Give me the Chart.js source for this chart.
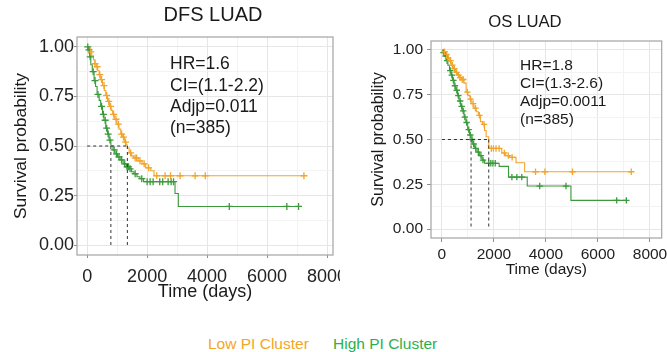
<!DOCTYPE html>
<html>
<head>
<meta charset="utf-8">
<script src="https://cdn.jsdelivr.net/npm/chart.js@4.4.1/dist/chart.umd.min.js"></script>
<style>
html,body{margin:0;padding:0;background:#fff;width:667px;height:352px;overflow:hidden;font-family:"Liberation Sans",Arial,sans-serif}
canvas{position:absolute;top:0}
#c1{left:0}
#c2{left:340px}
.leg{position:absolute;top:334.5px;font-size:15.5px;line-height:18px;white-space:nowrap;font-family:"Liberation Sans",Arial,sans-serif}
</style>
</head>
<body>
<canvas id="c1" width="340" height="310" style="width:340px;height:310px"></canvas>
<canvas id="c2" width="327" height="290" style="width:327px;height:290px"></canvas>
<div class="leg" style="left:208px;color:#F5A623">Low PI Cluster</div>
<div class="leg" style="left:333px;color:#2DB04B">High PI Cluster</div>
<script>
// ---------- DATA ----------
const panelTitles = ['DFS LUAD', 'OS LUAD'];
const seriesNames = ['Low PI Cluster', 'High PI Cluster'];
const xTickValues = [0, 2000, 4000, 6000, 8000];
const yTickValues = [0, 0.25, 0.5, 0.75, 1];
const xAxisTitle = 'Time (days)';
const yAxisTitle = 'Survival probability';

// DFS LUAD - Low PI Cluster (event times in days, survival after event)
const dfsLowTimes = [0, 40, 90, 150, 210, 260, 300, 350, 400, 450, 510, 570, 620, 680, 740, 800, 850, 920, 990, 1060, 1120, 1180, 1240, 1300, 1340, 1400, 1480, 1550, 1700, 1830, 1950, 2120, 2230, 7230];
const dfsLowSurv  = [1.00, 0.99, 0.975, 0.955, 0.935, 0.915, 0.90, 0.88, 0.86, 0.835, 0.805, 0.78, 0.755, 0.725, 0.70, 0.68, 0.66, 0.635, 0.61, 0.585, 0.56, 0.545, 0.52, 0.505, 0.49, 0.465, 0.45, 0.44, 0.425, 0.41, 0.39, 0.375, 0.35, 0.35];
const dfsLowCensor = [120, 260, 330, 420, 480, 560, 650, 720, 780, 880, 960, 1040, 1150, 1210, 1280, 1450, 1600, 1650, 1760, 1900, 2050, 2320, 2600, 2780, 3100, 3600, 3940, 7230];

// DFS LUAD - High PI Cluster
const dfsHighTimes = [0, 30, 80, 120, 170, 230, 280, 330, 400, 450, 510, 560, 620, 680, 730, 790, 860, 930, 1010, 1100, 1200, 1300, 1400, 1480, 1560, 1660, 1760, 1880, 2930, 3040, 7050];
const dfsHighSurv  = [1.00, 0.985, 0.95, 0.91, 0.875, 0.83, 0.80, 0.76, 0.73, 0.70, 0.66, 0.63, 0.59, 0.56, 0.53, 0.50, 0.48, 0.46, 0.445, 0.43, 0.41, 0.395, 0.385, 0.37, 0.36, 0.345, 0.335, 0.32, 0.26, 0.195, 0.195];
const dfsHighCensor = [20, 60, 100, 200, 260, 360, 480, 540, 600, 650, 700, 760, 900, 980, 1060, 1150, 1250, 1330, 1380, 1430, 1600, 1820, 2000, 2100, 2200, 2420, 2520, 2700, 2800, 2880, 4740, 6660, 7050];

// OS LUAD - Low PI Cluster
const osLowTimes = [0, 60, 130, 200, 280, 360, 440, 520, 600, 680, 760, 850, 930, 1000, 1080, 1150, 1230, 1320, 1400, 1480, 1560, 1640, 1700, 1800, 2300, 2450, 2600, 2850, 3180, 7280];
const osLowSurv  = [1.00, 0.99, 0.975, 0.955, 0.94, 0.915, 0.895, 0.875, 0.86, 0.845, 0.835, 0.815, 0.765, 0.745, 0.725, 0.70, 0.675, 0.655, 0.635, 0.60, 0.585, 0.55, 0.515, 0.45, 0.425, 0.41, 0.40, 0.37, 0.32, 0.32];
const osLowCensor = [100, 180, 240, 330, 400, 480, 560, 640, 700, 780, 820, 980, 1100, 1200, 1290, 1440, 1620, 1900, 1980, 2080, 2200, 2400, 2550, 2700, 3600, 3960, 5020, 7280];

// OS LUAD - High PI Cluster
const osHighTimes = [0, 40, 100, 170, 230, 290, 350, 410, 470, 530, 600, 660, 720, 780, 850, 920, 990, 1060, 1120, 1190, 1260, 1350, 1440, 1540, 1640, 2200, 2560, 3280, 4960, 7090];
const osHighSurv  = [1.00, 0.985, 0.965, 0.94, 0.915, 0.885, 0.86, 0.83, 0.80, 0.775, 0.745, 0.715, 0.685, 0.66, 0.625, 0.595, 0.555, 0.525, 0.50, 0.475, 0.45, 0.43, 0.41, 0.385, 0.367, 0.35, 0.29, 0.24, 0.16, 0.16];
const osHighCensor = [60, 140, 200, 320, 380, 440, 500, 570, 630, 700, 760, 820, 880, 950, 1030, 1090, 1160, 1220, 1300, 1400, 1500, 1580, 1800, 1880, 1960, 2050, 2690, 2880, 3070, 3760, 4770, 6720, 7090];

// median survival times (days)
const dfsMedians = [1340, 790];
const osMedians = [1800, 1120];
const medianLevel = 0.5;

// annotation texts
const dfsStats = ['HR=1.6', 'CI=(1.1-2.2)', 'Adjp=0.011', '(n=385)'];
const osStats = ['HR=1.8', 'CI=(1.3-2.6)', 'Adjp=0.0011', '(n=385)'];

// ---------- STYLE ----------
const FONT = '"Liberation Sans", Arial, sans-serif';
const COL_LOW = '#F2A52C';
const COL_HIGH = '#3B9A3B';

function survAt(times, surv, t) {
  let s = surv[0];
  for (let i = 0; i < times.length; i++) if (times[i] <= t) s = surv[i];
  return s;
}
function withMinor(vals) {
  const out = [];
  for (let i = 0; i < vals.length; i++) {
    out.push(vals[i]);
    if (i < vals.length - 1) out.push((vals[i] + vals[i + 1]) / 2);
  }
  return out;
}

function makePanel(canvasId, P, D) {
  const curve = (times, surv, color) => ({
    data: times.map((t, i) => ({x: t, y: surv[i]})),
    showLine: true, stepped: true, borderColor: color, borderWidth: 1.1,
    pointRadius: 0, order: 2
  });
  const censor = (ct, times, surv, color) => ({
    data: ct.map(t => ({x: t, y: survAt(times, surv, t)})),
    showLine: false, pointStyle: 'cross', pointRadius: P.crossR, borderColor: color,
    backgroundColor: color, pointBorderWidth: 1.3, order: 1
  });
  const dash = pts => ({
    data: pts, showLine: true, borderColor: '#333', borderWidth: 1, borderDash: [3, 3],
    pointRadius: 0, order: 0
  });
  const medMax = Math.max(D.medians[0], D.medians[1]);
  const datasets = [
    curve(D.lowT, D.lowS, COL_LOW),
    curve(D.highT, D.highS, COL_HIGH),
    censor(D.lowC, D.lowT, D.lowS, COL_LOW),
    censor(D.highC, D.highT, D.highS, COL_HIGH),
    dash([{x: 0, y: medianLevel}, {x: medMax, y: medianLevel}]),
    dash([{x: D.medians[0], y: medianLevel}, {x: D.medians[0], y: 0}]),
    dash([{x: D.medians[1], y: medianLevel}, {x: D.medians[1], y: 0}])
  ];
  const xGrid = withMinor(xTickValues), yGrid = withMinor(yTickValues);
  const extras = {
    id: 'extras' + canvasId,
    beforeDatasetsDraw(chart) {
      const {ctx, chartArea: a} = chart;
      ctx.save();
      ctx.strokeStyle = '#a3a3a3';
      ctx.lineWidth = 1.2;
      ctx.strokeRect(a.left, a.top, a.right - a.left, a.bottom - a.top);
      ctx.restore();
    },
    afterDraw(chart) {
      const {ctx} = chart;
      ctx.save();
      ctx.fillStyle = '#1a1a1a';
      ctx.textBaseline = 'middle';
      ctx.textAlign = 'center';
      ctx.font = P.titleSize + 'px ' + FONT;
      ctx.fillText(D.title, P.titleX, P.titleY);
      ctx.textAlign = 'left';
      ctx.font = P.statSize + 'px ' + FONT;
      D.stats.forEach((s, i) => ctx.fillText(s, P.statX, P.statY[i]));
      ctx.restore();
    }
  };
  return new Chart(document.getElementById(canvasId), {
    type: 'scatter',
    data: {datasets},
    plugins: [extras],
    options: {
      responsive: false, animation: false, devicePixelRatio: 1,
      layout: {padding: {left: 0, top: P.padTop, right: P.padRight, bottom: 0}},
      plugins: {legend: {display: false}, tooltip: {enabled: false}, title: {display: false}},
      scales: {
        x: {
          type: 'linear', min: P.xMin, max: P.xMax,
          afterBuildTicks: s => { s.ticks = xGrid.map(v => ({value: v})); },
          afterFit: s => { s.height = P.xHeight; s.paddingLeft = 0; s.paddingRight = 0; },
          ticks: {
            autoSkip: false, maxRotation: 0, color: '#222', padding: P.xTickPad,
            font: {family: FONT, size: P.tickSize},
            callback: v => xTickValues.includes(v) ? String(v) : ''
          },
          grid: {
            color: c => xTickValues.includes(c.tick.value) ? '#e6e6e6' : '#f3f3f3',
            tickColor: c => xTickValues.includes(c.tick.value) ? '#8f8f8f' : 'rgba(0,0,0,0)',
            tickLength: P.tickLen, lineWidth: 1
          },
          border: {display: false},
          title: {display: true, text: xAxisTitle, color: '#1a1a1a',
                  font: {family: FONT, size: P.axTitleSize}, padding: {top: 0, bottom: P.xTitlePad}}
        },
        y: {
          type: 'linear', min: -0.05, max: 1.05,
          afterBuildTicks: s => { s.ticks = yGrid.map(v => ({value: v})); },
          afterFit: s => { s.width = P.yWidth; },
          ticks: {
            autoSkip: false, color: '#222', padding: P.yTickPad,
            font: {family: FONT, size: P.tickSize},
            callback: v => yTickValues.includes(v) ? v.toFixed(2) : ''
          },
          grid: {
            color: c => yTickValues.includes(c.tick.value) ? '#e6e6e6' : '#f3f3f3',
            tickColor: c => yTickValues.includes(c.tick.value) ? '#8f8f8f' : 'rgba(0,0,0,0)',
            tickLength: P.tickLen, lineWidth: 1
          },
          border: {display: false},
          title: {display: true, text: yAxisTitle, color: '#1a1a1a',
                  font: {family: FONT, size: P.yTitleSize}, padding: {top: P.yTitlePad, bottom: 0}}
        }
      }
    }
  });
}

makePanel('c1', {
  padTop: 37, padRight: 7, yWidth: 77, xHeight: 55, xMin: -340, xMax: 8200,
  tickSize: 18, tickLen: 3, xTickPad: 8, yTickPad: 0, axTitleSize: 18, xTitlePad: 7,
  yTitleSize: 17.4, yTitlePad: 10.5, crossR: 3.5,
  titleSize: 20, titleX: 213, titleY: 15,
  statSize: 17.5, statX: 170, statY: [64, 86, 107, 128]
}, {
  title: panelTitles[0], stats: dfsStats, medians: dfsMedians,
  lowT: dfsLowTimes, lowS: dfsLowSurv, lowC: dfsLowCensor,
  highT: dfsHighTimes, highS: dfsHighSurv, highC: dfsHighCensor
});

makePanel('c2', {
  padTop: 41, padRight: 2, yWidth: 91, xHeight: 52, xMin: -420, xMax: 8450,
  tickSize: 15.5, tickLen: 4, xTickPad: 3, yTickPad: 4, axTitleSize: 15.5, xTitlePad: 10.7,
  yTitleSize: 16, yTitlePad: 29.4, crossR: 3.2,
  titleSize: 16.7, titleX: 185, titleY: 22,
  statSize: 15.5, statX: 180, statY: [65.5, 84, 102, 120]
}, {
  title: panelTitles[1], stats: osStats, medians: osMedians,
  lowT: osLowTimes, lowS: osLowSurv, lowC: osLowCensor,
  highT: osHighTimes, highS: osHighSurv, highC: osHighCensor
});
</script>
</body>
</html>
